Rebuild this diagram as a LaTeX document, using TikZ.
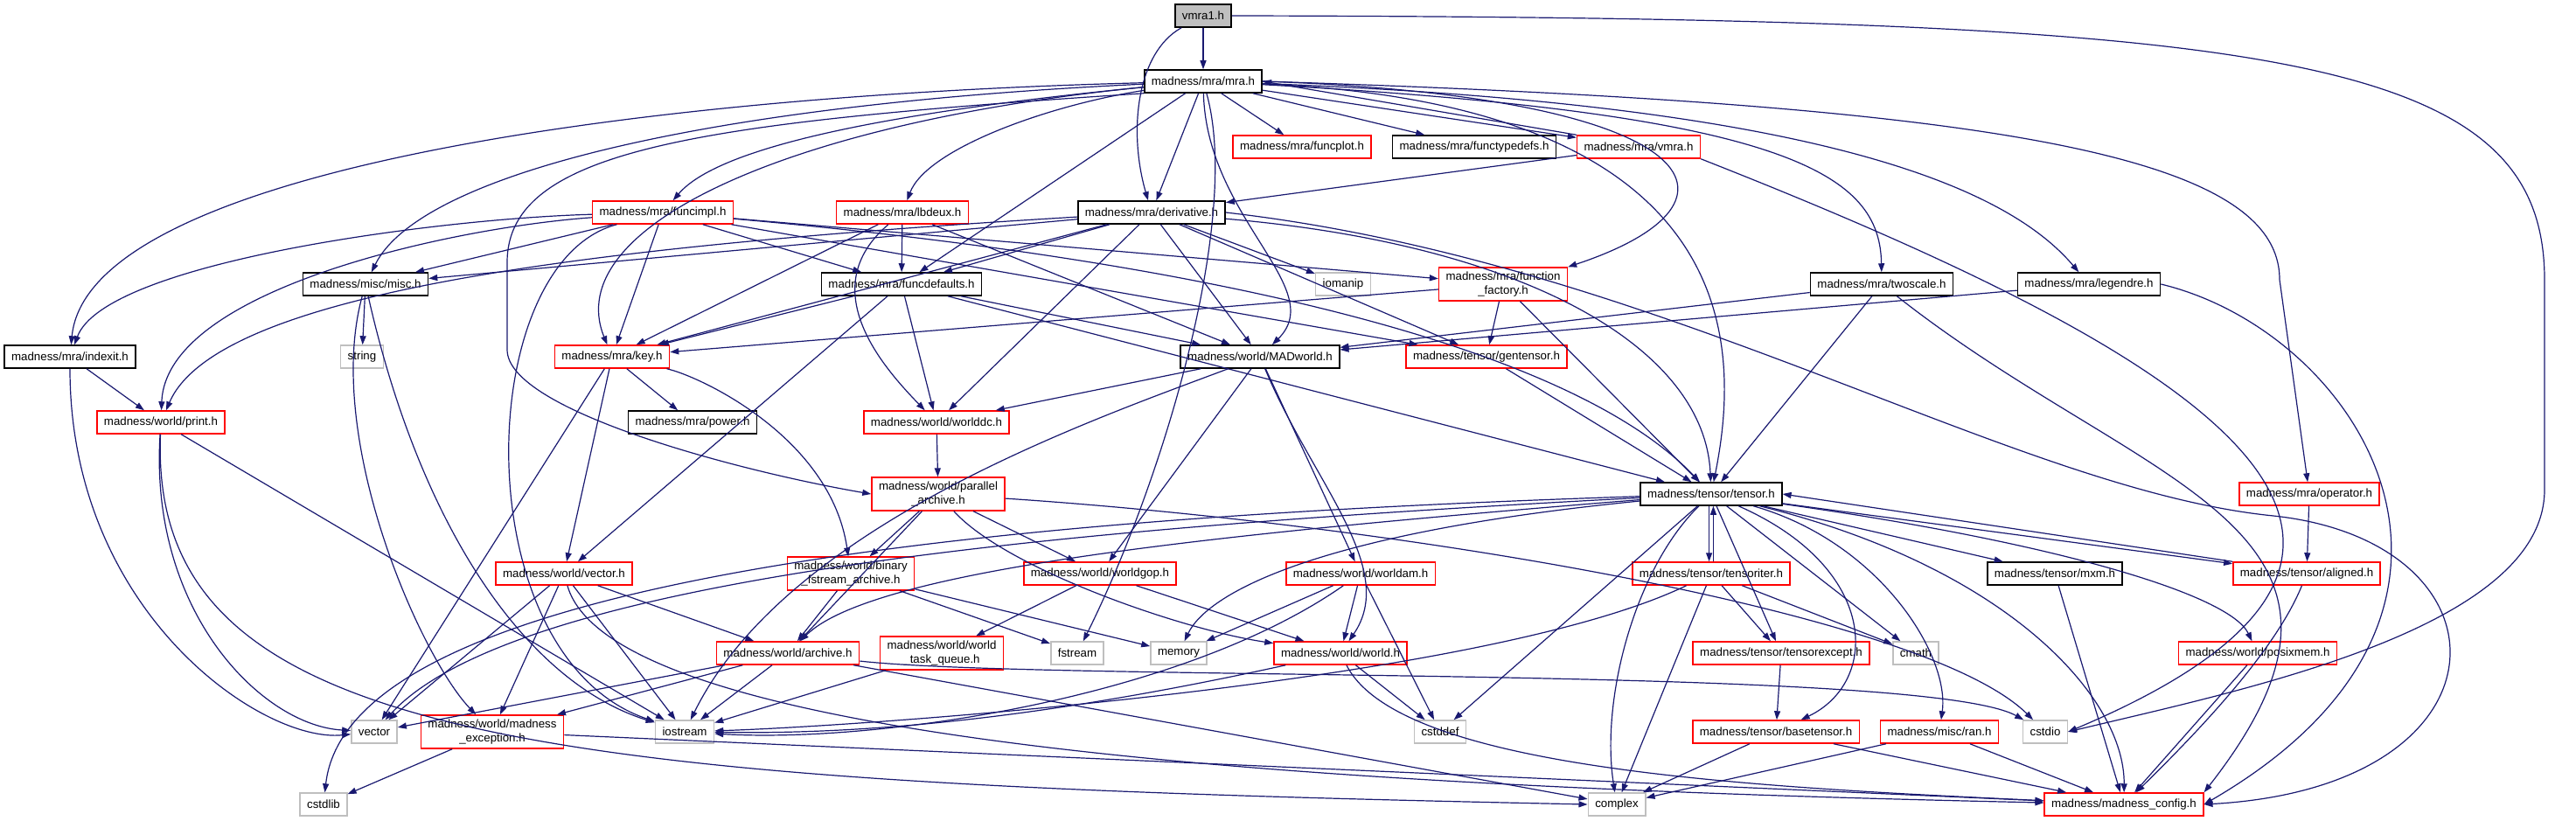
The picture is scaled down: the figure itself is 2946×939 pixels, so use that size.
\documentclass[tikz,border=0pt]{standalone}
\usepackage{fontspec}
\setmainfont{Liberation Sans}
\usetikzlibrary{arrows.meta}

\definecolor{edgeblue}{RGB}{25,25,112}
\definecolor{sysgray}{RGB}{191,191,191}

\tikzset{
  filebox/.style={draw, line width=1.5pt, inner xsep=8pt, inner ysep=5pt,
    minimum height=26pt, align=center, font=\fontsize{13.3}{15.5}\selectfont},
  hdr/.style={filebox, draw=black},
  inc/.style={filebox, draw=red},
  sys/.style={filebox, draw=sysgray},
  root/.style={filebox, draw=black, fill=sysgray},
  dep/.style={draw=edgeblue, line width=1.2pt, -{Triangle[length=10pt,width=7pt]}}
}

\begin{document}
\begin{tikzpicture}[x=1pt,y=-1pt]
  \useasboundingbox (0,0) rectangle (2946,939);

  % files
  \node[root] (vmraone) at (1376,18) {vmra1.h};
  \node[hdr] (mra) at (1376,93) {madness/mra/mra.h};
  \node[inc] (funcplot) at (1489,168) {madness/mra/funcplot.h};
  \node[hdr] (functypedefs) at (1686,168) {madness/mra/functypedefs.h};
  \node[inc] (vmra) at (1874,168) {madness/mra/vmra.h};
  \node[inc] (funcimpl) at (758,243) {madness/mra/funcimpl.h};
  \node[inc] (lbdeux) at (1032,243) {madness/mra/lbdeux.h};
  \node[hdr] (derivative) at (1317,243) {madness/mra/derivative.h};
  \node[hdr] (misc) at (418,325) {madness/misc/misc.h};
  \node[hdr] (funcdefaults) at (1031,325) {madness/mra/funcdefaults.h};
  \node[sys] (iomanip) at (1536,325) {iomanip};
  \node[inc] (funcfactory) at (1719,325) {madness/mra/function\\\_factory.h};
  \node[hdr] (twoscale) at (2152,325) {madness/mra/twoscale.h};
  \node[hdr] (legendre) at (2389,325) {madness/mra/legendre.h};
  \node[hdr] (indexit) at (80,408) {madness/mra/indexit.h};
  \node[sys] (string) at (414,408) {string};
  \node[inc] (key) at (700,408) {madness/mra/key.h};
  \node[hdr] (madworld) at (1441,408) {madness/world/MADworld.h};
  \node[inc] (gentensor) at (1700,408) {madness/tensor/gentensor.h};
  \node[inc] (print) at (184,483) {madness/world/print.h};
  \node[hdr] (power) at (792,483) {madness/mra/power.h};
  \node[inc] (worlddc) at (1071,483) {madness/world/worlddc.h};
  \node[inc] (parallel) at (1073,565) {madness/world/parallel\\\_archive.h};
  \node[hdr] (tensor) at (1957,565) {madness/tensor/tensor.h};
  \node[inc] (operator) at (2641,565) {madness/mra/operator.h};
  \node[inc] (vectorh) at (645,656) {madness/world/vector.h};
  \node[inc] (binary) at (973,656) {madness/world/binary\\\_fstream\_archive.h};
  \node[inc] (worldgop) at (1258,656) {madness/world/worldgop.h};
  \node[inc] (worldam) at (1556,656) {madness/world/worldam.h};
  \node[inc] (tensoriter) at (1957,656) {madness/tensor/tensoriter.h};
  \node[hdr] (mxm) at (2350,656) {madness/tensor/mxm.h};
  \node[inc] (aligned) at (2638,656) {madness/tensor/aligned.h};
  \node[inc] (archive) at (901,747) {madness/world/archive.h};
  \node[inc] (taskqueue) at (1077,747) {madness/world/world\\\_task\_queue.h};
  \node[sys] (fstream) at (1232,747) {fstream};
  \node[sys] (memory) at (1348,747) {memory};
  \node[inc] (world) at (1533,747) {madness/world/world.h};
  \node[inc] (tensorexcept) at (2037,747) {madness/tensor/tensorexcept.h};
  \node[sys] (cmath) at (2191,747) {cmath};
  \node[inc] (posixmem) at (2582,747) {madness/world/posixmem.h};
  \node[sys] (vector) at (428,837) {vector};
  \node[inc] (madexception) at (563,837) {madness/world/madness\\\_exception.h};
  \node[sys] (iostream) at (783,837) {iostream};
  \node[sys] (cstddef) at (1647,837) {cstddef};
  \node[inc] (basetensor) at (2031,837) {madness/tensor/basetensor.h};
  \node[inc] (ran) at (2218,837) {madness/misc/ran.h};
  \node[sys] (cstdio) at (2339,837) {cstdio};
  \node[sys] (cstdlib) at (370,920) {cstdlib};
  \node[sys] (complex) at (1849,920) {complex};
  \node[inc] (config) at (2429,920) {madness/madness\_config.h};

  % vmra1.h
  \draw[dep] (vmraone) -- (mra);
  \draw[dep] (vmraone) .. controls (1300,60) and (1290,150) .. (derivative);
  \draw[dep] (vmraone.east) .. controls (2600,20) and (2910,60) .. (2910,320) -- (2910,560) .. controls (2910,720) and (2560,790) .. (cstdio.east);

  % mra.h
  \draw[dep] (mra) .. controls (700,110) and (100,200) .. (indexit);
  \draw[dep] (mra) .. controls (800,120) and (480,200) .. (misc);
  \draw[dep] (mra.south west) .. controls (800,140) and (580,170) .. (580,300) -- (580,400) .. controls (580,470) and (850,540) .. (parallel.west);
  \draw[dep] (mra) .. controls (900,140) and (640,260) .. (key);
  \draw[dep] (mra) .. controls (1000,130) and (820,170) .. (funcimpl);
  \draw[dep] (mra) .. controls (1200,120) and (1060,170) .. (lbdeux);
  \draw[dep] (mra) -- (funcdefaults);
  \draw[dep] (mra) -- (derivative);
  \draw[dep] (mra) .. controls (1380,250) and (1520,330) .. (madworld);
  \draw[dep] (mra) .. controls (1420,250) and (1330,550) .. (fstream);
  \draw[dep] (mra) -- (funcplot);
  \draw[dep] (mra) -- (functypedefs);
  \draw[dep] (mra) -- (vmra);
  \draw[dep] (mra.east) .. controls (1950,110) and (2020,230) .. (funcfactory.north east);
  \draw[dep] (mra) .. controls (2000,120) and (1990,400) .. (tensor);
  \draw[dep] (mra) .. controls (2050,130) and (2150,200) .. (twoscale);
  \draw[dep] (mra) .. controls (2100,120) and (2300,220) .. (legendre);
  \draw[dep] (mra.east) .. controls (2300,120) and (2607,180) .. (2607,320) -- (operator);

  % vmra.h
  \draw[dep] (vmra.north west) -- (mra.east);
  \draw[dep] (vmra) -- (derivative);
  \draw[dep] (vmra.south east) .. controls (2500,400) and (2880,620) .. (cstdio.east);

  % funcimpl.h
  \draw[dep] (funcimpl) .. controls (500,250) and (120,300) .. (indexit);
  \draw[dep] (funcimpl) .. controls (520,260) and (190,330) .. (print);
  \draw[dep] (funcimpl) -- (misc);
  \draw[dep] (funcimpl) -- (key);
  \draw[dep] (funcimpl) -- (funcdefaults);
  \draw[dep] (funcimpl) .. controls (540,300) and (530,750) .. (iostream);
  \draw[dep] (funcimpl) -- (funcfactory);
  \draw[dep] (funcimpl) -- (gentensor);
  \draw[dep] (funcimpl) .. controls (1400,300) and (1800,400) .. (tensor);

  % lbdeux.h
  \draw[dep] (lbdeux) -- (funcdefaults);
  \draw[dep] (lbdeux) -- (key);
  \draw[dep] (lbdeux) .. controls (930,330) and (1010,420) .. (worlddc);
  \draw[dep] (lbdeux) -- (madworld);

  % derivative.h
  \draw[dep] (derivative) -- (misc);
  \draw[dep] (derivative) .. controls (700,280) and (250,330) .. (print);
  \draw[dep] (derivative) -- (funcdefaults);
  \draw[dep] (derivative) -- (key);
  \draw[dep] (derivative) -- (madworld);
  \draw[dep] (derivative) -- (worlddc);
  \draw[dep] (derivative) -- (iomanip);
  \draw[dep] (derivative) -- (gentensor);
  \draw[dep] (derivative) .. controls (1750,280) and (1950,400) .. (tensor);
  \draw[dep] (derivative.east) .. controls (1900,300) and (2300,560) .. (2600,590) .. controls (2880,620) and (2880,900) .. (config.east);

  % funcdefaults.h
  \draw[dep] (funcdefaults) -- (key);
  \draw[dep] (funcdefaults) -- (madworld);
  \draw[dep] (funcdefaults) -- (worlddc);
  \draw[dep] (funcdefaults) -- (tensor);
  \draw[dep] (funcdefaults) -- (vectorh);

  % function_factory.h, gentensor.h
  \draw[dep] (funcfactory) -- (key);
  \draw[dep] (funcfactory) -- (gentensor);
  \draw[dep] (funcfactory) -- (tensor);
  \draw[dep] (gentensor) -- (tensor);

  % twoscale.h, legendre.h, operator.h
  \draw[dep] (twoscale) -- (madworld);
  \draw[dep] (twoscale) -- (tensor);
  \draw[dep] (twoscale) .. controls (2450,560) and (2760,600) .. (config.north east);
  \draw[dep] (legendre) -- (madworld);
  \draw[dep] (legendre.east) .. controls (2700,380) and (2900,700) .. (config.east);
  \draw[dep] (operator) -- (aligned);

  % MADworld.h, worlddc.h, parallel_archive.h
  \draw[dep] (madworld) -- (worlddc);
  \draw[dep] (madworld) -- (worldgop);
  \draw[dep] (madworld) -- (worldam);
  \draw[dep] (madworld) .. controls (1500,550) and (1600,650) .. (world);
  \draw[dep] (madworld) .. controls (1250,480) and (900,600) .. (iostream);
  \draw[dep] (worlddc) -- (parallel);
  \draw[dep] (parallel) -- (binary);
  \draw[dep] (parallel) -- (worldgop);
  \draw[dep] (parallel) .. controls (1150,650) and (1350,720) .. (world);
  \draw[dep] (parallel) -- (archive);
  \draw[dep] (parallel) .. controls (1600,600) and (2200,700) .. (cstdio);

  % key.h
  \draw[dep] (key) -- (power);
  \draw[dep] (key) -- (vectorh);
  \draw[dep] (key) .. controls (800,430) and (950,500) .. (binary);
  \draw[dep] (key) -- (vector);

  % world headers
  \draw[dep] (binary) -- (archive);
  \draw[dep] (binary) -- (fstream);
  \draw[dep] (binary) -- (memory);
  \draw[dep] (worldgop) -- (taskqueue);
  \draw[dep] (worldgop) -- (world);
  \draw[dep] (worldam) -- (memory);
  \draw[dep] (worldam) -- (world);
  \draw[dep] (worldam) -- (cstddef);
  \draw[dep] (worldam) .. controls (1350,800) and (1000,850) .. (iostream);
  \draw[dep] (world) -- (cstddef);
  \draw[dep] (world) .. controls (1200,820) and (1000,840) .. (iostream);
  \draw[dep] (world) .. controls (1600,880) and (2000,900) .. (config);
  \draw[dep] (taskqueue) -- (iostream);
  \draw[dep] (archive) -- (vector);
  \draw[dep] (archive) -- (madexception);
  \draw[dep] (archive) -- (iostream);
  \draw[dep] (archive) -- (complex);
  \draw[dep] (archive) .. controls (1200,780) and (2200,760) .. (cstdio);
  \draw[dep] (vectorh) -- (vector);
  \draw[dep] (vectorh) -- (madexception);
  \draw[dep] (vectorh) -- (iostream);
  \draw[dep] (vectorh) -- (archive);
  \draw[dep] (vectorh) .. controls (700,850) and (1500,900) .. (config);

  % print.h, indexit.h, misc.h
  \draw[dep] (print) .. controls (170,700) and (300,830) .. (vector);
  \draw[dep] (print) -- (iostream);
  \draw[dep] (print) .. controls (170,850) and (600,895) .. (complex.west);
  \draw[dep] (indexit) -- (print);
  \draw[dep] (indexit) .. controls (80,700) and (300,850) .. (vector);
  \draw[dep] (misc) -- (string);
  \draw[dep] (misc) .. controls (370,500) and (480,750) .. (madexception);
  \draw[dep] (misc) .. controls (480,600) and (600,780) .. (iostream);
  \draw[dep] (madexception) -- (cstdlib);
  \draw[dep] (madexception) -- (config);

  % tensor.h
  \draw[dep] (tensor.-100) -- (tensoriter.100);
  \draw[dep] (tensor) -- (tensorexcept);
  \draw[dep] (tensor) -- (cmath);
  \draw[dep] (tensor) -- (mxm);
  \draw[dep] (tensor) -- (aligned);
  \draw[dep] (tensor) .. controls (2350,620) and (2550,680) .. (posixmem);
  \draw[dep] (tensor) .. controls (2150,650) and (2150,780) .. (basetensor);
  \draw[dep] (tensor) .. controls (2150,620) and (2230,750) .. (ran);
  \draw[dep] (tensor) .. controls (2300,650) and (2430,800) .. (config);
  \draw[dep] (tensor) .. controls (1870,650) and (1830,800) .. (complex);
  \draw[dep] (tensor) -- (cstddef);
  \draw[dep] (tensor) .. controls (1300,600) and (600,650) .. (vector);
  \draw[dep] (tensor) .. controls (1400,610) and (1000,650) .. (archive);
  \draw[dep] (tensor) .. controls (1200,590) and (400,650) .. (cstdlib);
  \draw[dep] (tensor) .. controls (1500,610) and (1380,680) .. (memory);
  \draw[dep] (tensoriter.80) -- (tensor.-80);
  \draw[dep] (tensoriter) -- (tensorexcept);
  \draw[dep] (tensoriter) -- (cmath);
  \draw[dep] (tensoriter) -- (complex);
  \draw[dep] (tensoriter) .. controls (1700,780) and (1000,830) .. (iostream);
  \draw[dep] (tensorexcept) -- (basetensor);
  \draw[dep] (basetensor) -- (complex);
  \draw[dep] (basetensor) -- (config);
  \draw[dep] (ran) -- (complex);
  \draw[dep] (ran) -- (config);
  \draw[dep] (mxm) -- (config);
  \draw[dep] (aligned.north west) -- (tensor.east);
  \draw[dep] (aligned) .. controls (2600,750) and (2500,850) .. (config);
  \draw[dep] (posixmem) -- (config);
\end{tikzpicture}
\end{document}
